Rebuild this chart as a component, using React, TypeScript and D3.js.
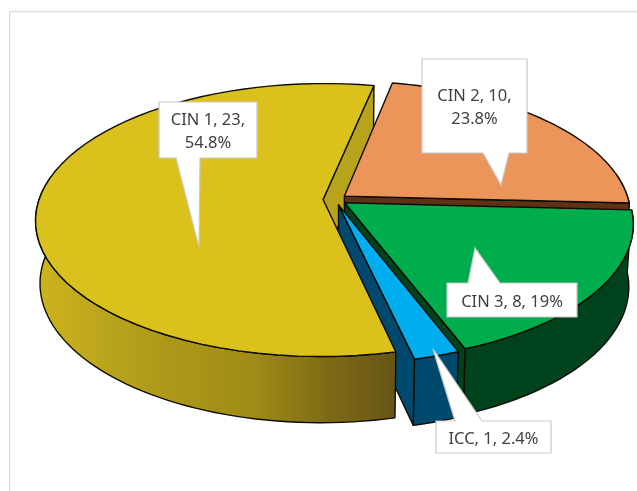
import * as d3 from "d3";

const WIDTH = 637;
const HEIGHT = 491;

const CATEGORIES = ["CIN 1", "CIN 2", "CIN 3", "ICC"];
const COUNTS = [23, 10, 8, 1];

const TOP_COLORS = ["#dac11c", "#ec955a", "#00ad4d", "#00aeef"];
const SIDE_COLORS = ["url(#rimYellow)", "#5e3318", "#03431e", "#044a6e"];
const CUT_COLORS = ["#b8a31d", "#5e3318", "#03431e", "#044a6e"];

// Where the slice boundaries land on screen, in degrees clockwise from 12 o'clock.
// Excel's 3D view skews them a bit compared to the plain pie angles.
const BOUNDARY_DEG = [167, 371.5, 453, 519, 527];

// Disc projection
const CENTER = { x: 335, y: 199.5 };
const RX = 284;
const RY = 133.4;
const PERSPECTIVE = 0.15;
const DEPTH = 62;
const BOTTOM_SHRINK = 0.015;
const EXPLODE = 0.042;
const RIM_FROM = (80 * Math.PI) / 180;
const RIM_TO = (280 * Math.PI) / 180;

// Callout boxes, in the same order as CATEGORIES
const CALLOUTS = [
  { x0: 159, x1: 257, y0: 102, y1: 158, base: [176, 200], tip: [199, 247], lines: 2, side: "bottom" },
  { x0: 422, x1: 527, y0: 59, y1: 153, base: [483, 509], tip: [501, 185], lines: 2, side: "bottom" },
  { x0: 447, x1: 577, y0: 283, y1: 317, base: [468, 500], tip: [475, 248], lines: 1, side: "top" },
  { x0: 436, x1: 551, y0: 421, y1: 453, base: [455, 482], tip: [433, 349], lines: 1, side: "top" },
];

const total = d3.sum(COUNTS);
const pieSlices = d3.pie<number>().sort(null)(COUNTS);

const angleScale = d3
  .scaleLinear()
  .domain([0, ...pieSlices.map((s) => s.endAngle)])
  .range(BOUNDARY_DEG.map((d) => (d * Math.PI) / 180));

const slices = pieSlices.map((s, i) => {
  let start = angleScale(s.startAngle);
  let end = angleScale(s.endAngle);
  // keep the start within one turn so the rim range below can be compared
  if (start >= 2 * Math.PI) {
    start -= 2 * Math.PI;
    end -= 2 * Math.PI;
  }
  return { i, start, end, mid: (start + end) / 2 };
});

type Slice = (typeof slices)[number];

// h = 0 is the top of the disc, h = 1 the bottom
function project(slice: Slice, angle: number, r: number, h: number): [number, number] {
  const u = r * Math.sin(angle) + EXPLODE * Math.sin(slice.mid);
  const v = -r * Math.cos(angle) - EXPLODE * Math.cos(slice.mid);
  const w = 1 / (1 - PERSPECTIVE * v);
  return [
    CENTER.x + RX * u * w * (1 - BOTTOM_SHRINK * h),
    CENTER.y + RY * v * w + DEPTH * h * Math.pow(w, 0.4),
  ];
}

const closedLine = d3.line().curve(d3.curveLinearClosed);

function arcPoints(slice: Slice, from: number, to: number, h: number) {
  return d3
    .range(0, 61)
    .map((k) => project(slice, from + ((to - from) * k) / 60, 1, h));
}

function topPath(slice: Slice) {
  return closedLine([
    project(slice, slice.start, 0, 0),
    ...arcPoints(slice, slice.start, slice.end, 0),
  ]) as string;
}

function rimPath(slice: Slice) {
  const from = Math.max(slice.start, RIM_FROM);
  const to = Math.min(slice.end, RIM_TO);
  return closedLine([
    ...arcPoints(slice, from, to, 0),
    ...arcPoints(slice, from, to, 1).reverse(),
  ]) as string;
}

// The flat cut face along the slice's clockwise end
function cutPath(slice: Slice) {
  return closedLine([
    project(slice, slice.end, 0, 0),
    project(slice, slice.end, 1, 0),
    project(slice, slice.end, 1, 1),
    project(slice, slice.end, 0, 1),
  ]) as string;
}

function calloutPath(c: (typeof CALLOUTS)[number]) {
  const pts: [number, number][] =
    c.side === "bottom"
      ? [
          [c.x0, c.y0],
          [c.x1, c.y0],
          [c.x1, c.y1],
          [c.base[1], c.y1],
          [c.tip[0], c.tip[1]],
          [c.base[0], c.y1],
          [c.x0, c.y1],
        ]
      : [
          [c.x0, c.y0],
          [c.base[0], c.y0],
          [c.tip[0], c.tip[1]],
          [c.base[1], c.y0],
          [c.x1, c.y0],
          [c.x1, c.y1],
          [c.x0, c.y1],
        ];
  return closedLine(pts) as string;
}

function labelLines(i: number) {
  const pct = +((COUNTS[i] / total) * 100).toFixed(1);
  if (CALLOUTS[i].lines === 2) {
    return [`${CATEGORIES[i]}, ${COUNTS[i]},`, `${pct}%`];
  }
  return [`${CATEGORIES[i]}, ${COUNTS[i]}, ${pct}%`];
}

const OUTLINE = { stroke: "#0c0c04", strokeWidth: 1.4, strokeLinejoin: "round" as const };

function SliceBody({ slice, withCut = true }: { slice: Slice; withCut?: boolean }) {
  return (
    <g>
      <path d={rimPath(slice)} fill={SIDE_COLORS[slice.i]} {...OUTLINE} />
      {withCut && <path d={cutPath(slice)} fill={CUT_COLORS[slice.i]} {...OUTLINE} />}
      <path d={topPath(slice)} fill={TOP_COLORS[slice.i]} {...OUTLINE} />
    </g>
  );
}

export default function App() {
  const [yellow, orange, green, blue] = slices;

  return (
    <svg
      width={WIDTH}
      height={HEIGHT}
      style={{ position: "absolute", left: 0, top: 0, background: "#fff" }}
      fontFamily="'Noto Sans', 'Open Sans', sans-serif"
    >
      <defs>
        <linearGradient id="rimYellow" gradientUnits="userSpaceOnUse" x1={36} x2={397} y1={0} y2={0}>
          <stop offset="0" stopColor="#cdb41e" />
          <stop offset="0.3" stopColor="#b19c1a" />
          <stop offset="0.6" stopColor="#a08c18" />
          <stop offset="0.8" stopColor="#7f6c12" />
          <stop offset="1" stopColor="#665414" />
        </linearGradient>
        <filter id="soft" x="0" y="0" width="100%" height="100%">
          <feGaussianBlur stdDeviation="0.4" />
        </filter>
      </defs>

      <g filter="url(#soft)">
        <path d={`M9.5 ${HEIGHT}V11.5H${WIDTH}`} fill="none" stroke="#dcdcdc" strokeWidth={1.5} />

        {/* back to front: yellow's cut face sits behind the others, its top in front */}
        <path d={cutPath(yellow)} fill={CUT_COLORS[0]} {...OUTLINE} />
        <SliceBody slice={orange} />
        <SliceBody slice={green} />
        <SliceBody slice={blue} />
        <SliceBody slice={yellow} withCut={false} />

        {CALLOUTS.map((c, i) => {
          const lines = labelLines(i);
          const cx = (c.x0 + c.x1) / 2;
          const cy = (c.y0 + c.y1) / 2;
          return (
            <g key={CATEGORIES[i]}>
              <path d={calloutPath(c)} fill="#fff" stroke="#c9c9c9" strokeWidth={1.2} />
              <text textAnchor="middle" fontSize={16.5} fill="#404040">
                {lines.map((t, k) => (
                  <tspan
                    key={k}
                    x={cx}
                    y={cy + (k - (lines.length - 1) / 2) * 23.5}
                    dominantBaseline="central"
                  >
                    {t}
                  </tspan>
                ))}
              </text>
            </g>
          );
        })}
      </g>
    </svg>
  );
}
